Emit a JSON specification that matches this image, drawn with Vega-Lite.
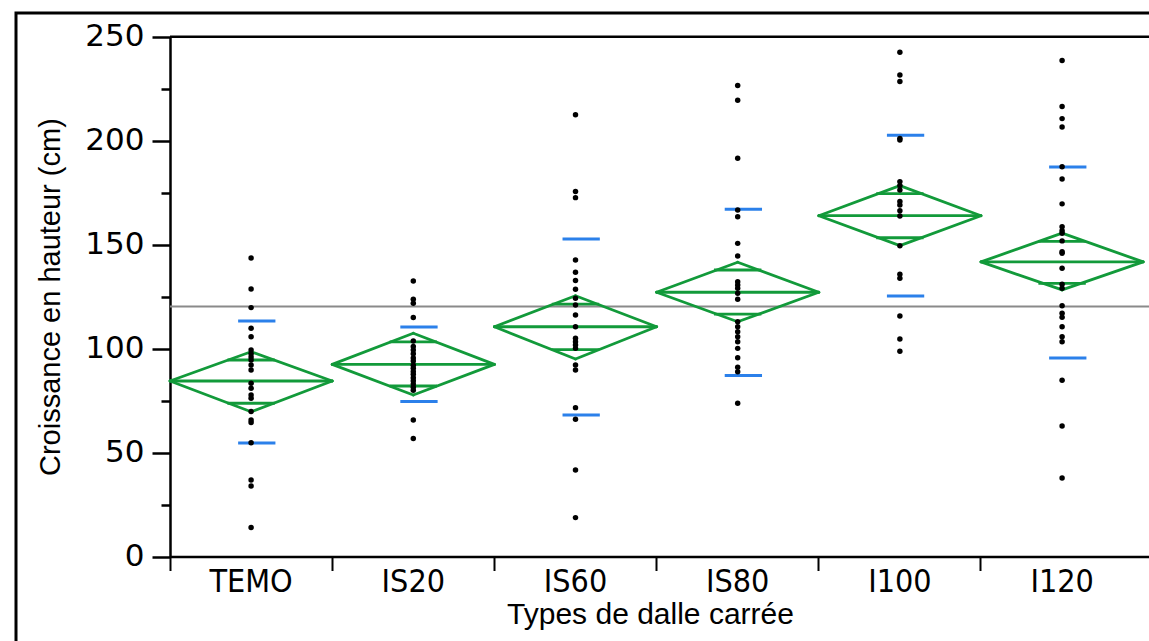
{
  "$schema": "https://vega.github.io/schema/vega-lite/v6.json",
  "width": 1133,
  "height": 628,
  "autosize": {"type": "none"},
  "padding": {"left": 16, "top": 13, "right": 0, "bottom": 0},
  "background": "white",
  "config": {
    "view": {"stroke": "black", "strokeWidth": 3, "strokeDash": [1133, 1761, 628]}
  },
  "datasets": {
    "points": [
      {"group": "TEMO", "growth": 143.6}, {"group": "TEMO", "growth": 128.7}, {"group": "TEMO", "growth": 119.7}, {"group": "TEMO", "growth": 109.8}, {"group": "TEMO", "growth": 105.7}, {"group": "TEMO", "growth": 99.3}, {"group": "TEMO", "growth": 97.5}, {"group": "TEMO", "growth": 96.0}, {"group": "TEMO", "growth": 94.5}, {"group": "TEMO", "growth": 92.1}, {"group": "TEMO", "growth": 89.7}, {"group": "TEMO", "growth": 83.3}, {"group": "TEMO", "growth": 80.9}, {"group": "TEMO", "growth": 77.7}, {"group": "TEMO", "growth": 76.1}, {"group": "TEMO", "growth": 69.7}, {"group": "TEMO", "growth": 65.7}, {"group": "TEMO", "growth": 64.4}, {"group": "TEMO", "growth": 54.7}, {"group": "TEMO", "growth": 36.8}, {"group": "TEMO", "growth": 33.9}, {"group": "TEMO", "growth": 13.9},
      {"group": "IS20", "growth": 132.5}, {"group": "IS20", "growth": 123.7}, {"group": "IS20", "growth": 121.8}, {"group": "IS20", "growth": 114.9}, {"group": "IS20", "growth": 103.7}, {"group": "IS20", "growth": 101.0}, {"group": "IS20", "growth": 99.3}, {"group": "IS20", "growth": 97.5}, {"group": "IS20", "growth": 95.5}, {"group": "IS20", "growth": 94.0}, {"group": "IS20", "growth": 92.0}, {"group": "IS20", "growth": 90.5}, {"group": "IS20", "growth": 89.0}, {"group": "IS20", "growth": 87.6}, {"group": "IS20", "growth": 86.0}, {"group": "IS20", "growth": 84.5}, {"group": "IS20", "growth": 83.0}, {"group": "IS20", "growth": 81.4}, {"group": "IS20", "growth": 80.0}, {"group": "IS20", "growth": 65.7}, {"group": "IS20", "growth": 56.7},
      {"group": "IS60", "growth": 212.5}, {"group": "IS60", "growth": 175.5}, {"group": "IS60", "growth": 172.6}, {"group": "IS60", "growth": 142.6}, {"group": "IS60", "growth": 136.7}, {"group": "IS60", "growth": 132.7}, {"group": "IS60", "growth": 128.5}, {"group": "IS60", "growth": 124.2}, {"group": "IS60", "growth": 121.0}, {"group": "IS60", "growth": 116.2}, {"group": "IS60", "growth": 110.5}, {"group": "IS60", "growth": 105.0}, {"group": "IS60", "growth": 103.3}, {"group": "IS60", "growth": 101.7}, {"group": "IS60", "growth": 100.1}, {"group": "IS60", "growth": 92.1}, {"group": "IS60", "growth": 89.7}, {"group": "IS60", "growth": 71.6}, {"group": "IS60", "growth": 66.0}, {"group": "IS60", "growth": 41.6}, {"group": "IS60", "growth": 18.7},
      {"group": "IS80", "growth": 226.5}, {"group": "IS80", "growth": 219.4}, {"group": "IS80", "growth": 191.5}, {"group": "IS80", "growth": 166.7}, {"group": "IS80", "growth": 163.4}, {"group": "IS80", "growth": 150.6}, {"group": "IS80", "growth": 144.5}, {"group": "IS80", "growth": 132.2}, {"group": "IS80", "growth": 130.6}, {"group": "IS80", "growth": 129.0}, {"group": "IS80", "growth": 126.6}, {"group": "IS80", "growth": 123.7}, {"group": "IS80", "growth": 112.9}, {"group": "IS80", "growth": 110.5}, {"group": "IS80", "growth": 108.1}, {"group": "IS80", "growth": 105.7}, {"group": "IS80", "growth": 103.3}, {"group": "IS80", "growth": 100.1}, {"group": "IS80", "growth": 95.6}, {"group": "IS80", "growth": 91.0}, {"group": "IS80", "growth": 88.9}, {"group": "IS80", "growth": 73.7},
      {"group": "I100", "growth": 242.5}, {"group": "I100", "growth": 231.6}, {"group": "I100", "growth": 228.4}, {"group": "I100", "growth": 201.1}, {"group": "I100", "growth": 200.3}, {"group": "I100", "growth": 180.3}, {"group": "I100", "growth": 178.4}, {"group": "I100", "growth": 176.3}, {"group": "I100", "growth": 170.7}, {"group": "I100", "growth": 169.1}, {"group": "I100", "growth": 166.3}, {"group": "I100", "growth": 163.8}, {"group": "I100", "growth": 149.5}, {"group": "I100", "growth": 135.7}, {"group": "I100", "growth": 133.8}, {"group": "I100", "growth": 115.7}, {"group": "I100", "growth": 104.6}, {"group": "I100", "growth": 98.7},
      {"group": "I120", "growth": 238.5}, {"group": "I120", "growth": 216.4}, {"group": "I120", "growth": 210.6}, {"group": "I120", "growth": 206.6}, {"group": "I120", "growth": 187.5}, {"group": "I120", "growth": 181.6}, {"group": "I120", "growth": 169.6}, {"group": "I120", "growth": 158.6}, {"group": "I120", "growth": 156.7}, {"group": "I120", "growth": 155.5}, {"group": "I120", "growth": 151.8}, {"group": "I120", "growth": 146.6}, {"group": "I120", "growth": 145.8}, {"group": "I120", "growth": 138.6}, {"group": "I120", "growth": 130.9}, {"group": "I120", "growth": 129.0}, {"group": "I120", "growth": 120.6}, {"group": "I120", "growth": 117.0}, {"group": "I120", "growth": 115.1}, {"group": "I120", "growth": 110.5}, {"group": "I120", "growth": 105.7}, {"group": "I120", "growth": 103.3}, {"group": "I120", "growth": 84.8}, {"group": "I120", "growth": 62.8}, {"group": "I120", "growth": 37.8}
    ],
    "summary": [
      {"group": "TEMO", "mean": 84.4, "lcl": 69.6, "ucl": 98.5, "ov_lo": 73.7, "ov_hi": 94.5, "sd_lo": 54.6, "sd_hi": 113.3},
      {"group": "IS20", "mean": 92.4, "lcl": 77.7, "ucl": 107.4, "ov_lo": 82.0, "ov_hi": 103.2, "sd_lo": 74.5, "sd_hi": 110.4},
      {"group": "IS60", "mean": 110.5, "lcl": 95.0, "ucl": 125.4, "ov_lo": 99.5, "ov_hi": 121.4, "sd_lo": 68.1, "sd_hi": 152.7},
      {"group": "IS80", "mean": 127.1, "lcl": 112.9, "ucl": 141.5, "ov_lo": 116.6, "ov_hi": 137.8, "sd_lo": 87.0, "sd_hi": 167.0},
      {"group": "I100", "mean": 163.9, "lcl": 149.5, "ucl": 178.4, "ov_lo": 153.3, "ov_hi": 174.5, "sd_lo": 125.3, "sd_hi": 202.6},
      {"group": "I120", "mean": 141.7, "lcl": 128.2, "ucl": 155.5, "ov_lo": 131.4, "ov_hi": 151.6, "sd_lo": 95.5, "sd_hi": 187.3}
    ],
    "overall": [{"grand_mean": 120.2}]
  },
  "layer": [
    {
      "data": {"name": "overall"},
      "mark": {"type": "rule", "color": "black", "strokeWidth": 2.5},
      "encoding": {
        "x": {"datum": "TEMO", "type": "nominal", "bandPosition": 0, "scale": {"type": "band", "domain": ["TEMO", "IS20", "IS60", "IS80", "I100", "I120"], "range": [154, 1133], "paddingInner": 0, "paddingOuter": 0.0179, "align": 0}},
        "x2": {"datum": "I120", "bandPosition": 1.037},
        "y": {"datum": 250, "type": "quantitative", "scale": {"domain": [0, 250], "range": [543.5, 23.7], "nice": false, "zero": false}}
      }
    },
    {
      "data": {"name": "overall"},
      "mark": {"type": "rule", "color": "#8a8a8a", "strokeWidth": 2},
      "encoding": {
        "x": {"datum": "TEMO", "type": "nominal", "bandPosition": 0},
        "x2": {"datum": "I120", "bandPosition": 1.037},
        "y": {"field": "grand_mean", "type": "quantitative"}
      }
    },
    {
      "data": {"name": "summary"},
      "mark": {"type": "rule", "color": "#129a3a", "strokeWidth": 2.8, "strokeCap": "round"},
      "encoding": {
        "x": {"field": "group", "type": "nominal", "bandPosition": 0},
        "x2": {"field": "group", "bandPosition": 1},
        "y": {"field": "mean", "type": "quantitative"}
      }
    },
    {
      "data": {"name": "summary"},
      "mark": {"type": "rule", "color": "#129a3a", "strokeWidth": 2.8, "strokeCap": "round"},
      "encoding": {
        "x": {"field": "group", "type": "nominal", "bandPosition": 0},
        "x2": {"field": "group", "bandPosition": 0.5},
        "y": {"field": "mean", "type": "quantitative"},
        "y2": {"field": "ucl"}
      }
    },
    {
      "data": {"name": "summary"},
      "mark": {"type": "rule", "color": "#129a3a", "strokeWidth": 2.8, "strokeCap": "round"},
      "encoding": {
        "x": {"field": "group", "type": "nominal", "bandPosition": 0.5},
        "x2": {"field": "group", "bandPosition": 1},
        "y": {"field": "ucl", "type": "quantitative"},
        "y2": {"field": "mean"}
      }
    },
    {
      "data": {"name": "summary"},
      "mark": {"type": "rule", "color": "#129a3a", "strokeWidth": 2.8, "strokeCap": "round"},
      "encoding": {
        "x": {"field": "group", "type": "nominal", "bandPosition": 0},
        "x2": {"field": "group", "bandPosition": 0.5},
        "y": {"field": "mean", "type": "quantitative"},
        "y2": {"field": "lcl"}
      }
    },
    {
      "data": {"name": "summary"},
      "mark": {"type": "rule", "color": "#129a3a", "strokeWidth": 2.8, "strokeCap": "round"},
      "encoding": {
        "x": {"field": "group", "type": "nominal", "bandPosition": 0.5},
        "x2": {"field": "group", "bandPosition": 1},
        "y": {"field": "lcl", "type": "quantitative"},
        "y2": {"field": "mean"}
      }
    },
    {
      "data": {"name": "summary"},
      "mark": {"type": "rule", "color": "#129a3a", "strokeWidth": 2.8},
      "encoding": {
        "x": {"field": "group", "type": "nominal", "bandPosition": 0.354},
        "x2": {"field": "group", "bandPosition": 0.646},
        "y": {"field": "ov_hi", "type": "quantitative"}
      }
    },
    {
      "data": {"name": "summary"},
      "mark": {"type": "rule", "color": "#129a3a", "strokeWidth": 2.8},
      "encoding": {
        "x": {"field": "group", "type": "nominal", "bandPosition": 0.354},
        "x2": {"field": "group", "bandPosition": 0.646},
        "y": {"field": "ov_lo", "type": "quantitative"}
      }
    },
    {
      "data": {"name": "summary"},
      "mark": {"type": "rule", "color": "#2b80ea", "strokeWidth": 3},
      "encoding": {
        "x": {"field": "group", "type": "nominal", "bandPosition": 0.42},
        "x2": {"field": "group", "bandPosition": 0.65},
        "y": {"field": "sd_hi", "type": "quantitative"}
      }
    },
    {
      "data": {"name": "summary"},
      "mark": {"type": "rule", "color": "#2b80ea", "strokeWidth": 3},
      "encoding": {
        "x": {"field": "group", "type": "nominal", "bandPosition": 0.42},
        "x2": {"field": "group", "bandPosition": 0.65},
        "y": {"field": "sd_lo", "type": "quantitative"}
      }
    },
    {
      "data": {"name": "points"},
      "mark": {"type": "point", "filled": true, "color": "black", "size": 30, "opacity": 1},
      "encoding": {
        "x": {"field": "group", "type": "nominal",
          "axis": {"orient": "bottom", "offset": -84.5, "bandPosition": 0, "tickSize": 14, "tickWidth": 2, "tickColor": "black", "domainColor": "black", "domainWidth": 2.5,
            "labelAngle": 0, "labelAlign": "center", "labelFont": "DejaVu Sans Condensed, DejaVu Sans", "labelFontSize": 32, "labelColor": "black", "labelBaseline": "alphabetic", "labelPadding": 21, "labelOverlap": false,
            "title": "Types de dalle carrée", "titleFont": "Liberation Sans", "titleFontSize": 30, "titleFontWeight": "normal", "titleColor": "black", "titleBaseline": "alphabetic", "titleX": 634, "titleY": 67, "grid": false}},
        "y": {"field": "growth", "type": "quantitative",
          "axis": {"orient": "left", "offset": -154, "values": [0, 25, 50, 75, 100, 125, 150, 175, 200, 225, 250],
            "labelExpr": "datum.value % 50 === 0 ? datum.label : ''",
            "tickSize": {"condition": {"test": "datum.value % 50 === 0", "value": 18}, "value": 9},
            "tickWidth": 2.5, "tickColor": "black", "domain": true, "domainColor": "black", "domainWidth": 2.5,
            "labelFont": "DejaVu Sans", "labelFontSize": 31, "labelColor": "black", "labelPadding": 8, "labelOverlap": false,
            "title": "Croissance en hauteur (cm)", "titleFont": "Liberation Sans", "titleFontSize": 29, "titleFontWeight": "normal", "titleColor": "black", "titleX": -105, "titleY": 283.6, "grid": false}}
      }
    }
  ]
}
